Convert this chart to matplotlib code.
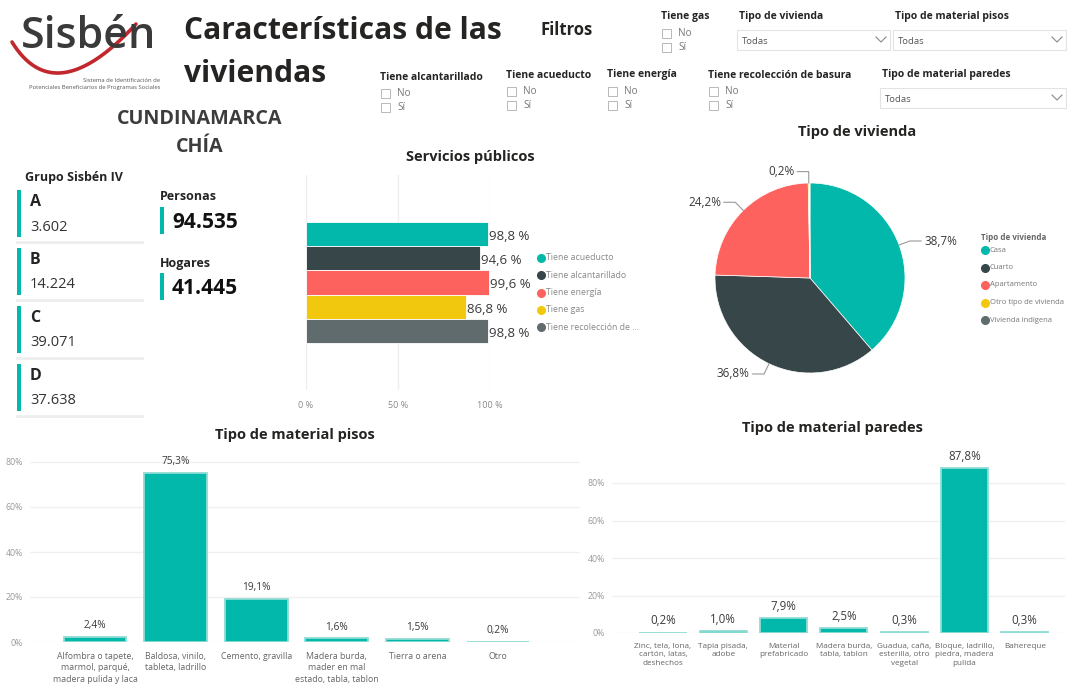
import numpy as np
import matplotlib.pyplot as plt
from matplotlib.patches import Rectangle
from matplotlib.lines import Line2D

W, H = 1068, 686
FONT = "Open Sans"
TEAL = "#01B8AA"
PALETTE = ["#01B8AA", "#374649", "#FD625E", "#F2C80F", "#5F6B6D"]
TXT_DARK = "#252423"
TXT_GRAY = "#605E5C"

# ---- data -------------------------------------------------------------
DEPARTAMENTO = "CUNDINAMARCA"
MUNICIPIO = "CHÍA"

GRUPOS = ["A", "B", "C", "D"]
GRUPO_PERSONAS = [3602, 14224, 39071, 37638]
PERSONAS = 94535
HOGARES = 41445

SERVICIOS = ["Tiene acueducto", "Tiene alcantarillado", "Tiene energía",
             "Tiene gas", "Tiene recolección de basura"]
SERVICIOS_PCT = [98.8, 94.6, 99.6, 86.8, 98.8]

VIVIENDA = ["Casa", "Cuarto", "Apartamento", "Otro tipo de vivienda", "Vivienda indígena"]
VIVIENDA_PCT = [38.7, 36.8, 24.2, 0.2, 0.1]

PISOS = ["Alfombra o tapete,\nmarmol, parqué,\nmadera pulida y laca",
         "Baldosa, vinilo,\ntableta, ladrillo",
         "Cemento, gravilla",
         "Madera burda,\nmader en mal\nestado, tabla, tablon",
         "Tierra o arena",
         "Otro"]
PISOS_PCT = [2.4, 75.3, 19.1, 1.6, 1.5, 0.2]

PAREDES = ["Zinc, tela, lona,\ncartón, latas,\ndeshechos",
           "Tapia pisada,\nadobe",
           "Material\nprefabricado",
           "Madera burda,\ntabla, tablon",
           "Guadua, caña,\nesterilla, otro\nvegetal",
           "Bloque, ladrillo,\npiedra, madera\npulida",
           "Bahereque"]
PAREDES_PCT = [0.2, 1.0, 7.9, 2.5, 0.3, 87.8, 0.3]

CHECK_FILTROS = [("Tiene gas", 661, 17), ("Tiene alcantarillado", 380, 77),
                 ("Tiene acueducto", 506, 75), ("Tiene energía", 607, 75),
                 ("Tiene recolección de basura", 708, 75)]
DROP_FILTROS = [("Tipo de vivienda", 737, 890, 17), ("Tipo de material pisos", 893, 1066, 17),
                ("Tipo de material paredes", 880, 1066, 75)]

plt.rcParams["font.family"] = [FONT, "DejaVu Sans"]

fig = plt.figure(figsize=(W / 100, H / 100), dpi=100)
fig.patch.set_facecolor("white")


def fx(x):
    return x / W


def fy(y):
    return 1 - y / H


def txt(x, y, s, size, **kw):
    kw.setdefault("va", "center")
    kw.setdefault("color", TXT_DARK)
    return fig.text(fx(x), fy(y), s, fontsize=size, **kw)


def rect(x0, y0, x1, y1, **kw):
    fig.add_artist(Rectangle((fx(x0), fy(y1)), (x1 - x0) / W, (y1 - y0) / H,
                             transform=fig.transFigure, **kw))


def line(xs, ys, **kw):
    fig.add_artist(Line2D([fx(x) for x in xs], [fy(y) for y in ys],
                          transform=fig.transFigure, **kw))


def axes_px(left, top, right, bottom):
    return fig.add_axes([left / W, 1 - bottom / H, (right - left) / W, (bottom - top) / H])


def fmt_int(v):
    return f"{v:,}".replace(",", ".")


def fmt_pct(v, sep=""):
    return f"{v:.1f}".replace(".", ",") + sep + "%"


# ---- logo + title ------------------------------------------------------
t = np.linspace(0, 1, 80)
p0, p1, p2 = np.array([12, 42]), np.array([55, 112]), np.array([136, 24])
curve = np.outer((1 - t) ** 2, p0) + np.outer(2 * t * (1 - t), p1) + np.outer(t ** 2, p2)
line(curve[:, 0], curve[:, 1], color="#C1272D", lw=2.6, solid_capstyle="round")
txt(89, 36, "Sisbén", 31, ha="center", color="#3a3a3a", weight="semibold")
txt(160, 80, "Sistema de Identificación de", 4.2, ha="right", color="#555")
txt(160, 88, "Potenciales Beneficiarios de Programas Sociales", 4.2, ha="right", color="#555")

txt(184, 31, "Características de las", 21.6, weight="bold")
txt(184, 74, "viviendas", 21.6, weight="bold")
txt(541, 30, "Filtros", 12, weight="bold")

# ---- filters -----------------------------------------------------------
for name, x, y in CHECK_FILTROS:
    txt(x, y, name, 7.5, weight="bold")
    for k, opt in enumerate(["No", "Sí"]):
        yy = y + 16 + k * 14
        rect(x + 1, yy - 4.5, x + 10, yy + 4.5, facecolor="white", edgecolor="#b8b8b8", lw=0.7)
        txt(x + 17, yy, opt, 7.2, color="#777")

for name, x0, x1, y in DROP_FILTROS:
    txt(x0 + 2, y, name, 7.5, weight="bold")
    rect(x0, y + 13, x1, y + 33, facecolor="white", edgecolor="#e3e3e3", lw=0.8)
    txt(x0 + 5, y + 24, "Todas", 6.8, color="#555")
    line([x1 - 14, x1 - 9, x1 - 4], [y + 20, y + 25, y + 20], color="#888", lw=0.8)

# ---- location + KPI cards ---------------------------------------------
txt(200, 119, DEPARTAMENTO, 14.2, ha="center", weight="bold", color="#3c3c3c")
txt(200, 147, MUNICIPIO, 14.2, ha="center", weight="bold", color="#3c3c3c")

txt(25, 178, "Grupo Sisbén IV", 9, weight="bold")
for i, (g, v) in enumerate(zip(GRUPOS, GRUPO_PERSONAS)):
    top = 190 + i * 58
    rect(17, top, 21, top + 47, facecolor=TEAL, lw=0)
    txt(30, top + 12, g, 11.5, weight="bold")
    txt(30, top + 37, fmt_int(v), 10.5, color="#333")
    line([17, 142], [top + 52, top + 52], color="#eeeeee", lw=2)

for label, val, y in [("Personas", PERSONAS, 197), ("Hogares", HOGARES, 263)]:
    txt(160, y, label, 9, weight="bold")
    rect(160, y + 10, 164, y + 37, facecolor=TEAL, lw=0)
    txt(172, y + 25, fmt_int(val), 15, weight="bold", color="#111")

# ---- servicios públicos -----------------------------------------------
txt(470, 157, "Servicios públicos", 10.5, ha="center", weight="bold")
ax = axes_px(306, 175, 490, 390)
pos = np.arange(len(SERVICIOS))
ax.barh(pos, SERVICIOS_PCT, height=1.0, color=PALETTE, edgecolor="white", lw=0.6, zorder=2)
for p, v in zip(pos, SERVICIOS_PCT):
    ax.text(v + 0.5, p + 0.1, fmt_pct(v, " "), fontsize=9.5, color="#3a3a3a",
            va="center", ha="left", clip_on=False)
half = 215 / 24.2 / 2
ax.set_ylim(2 + half, 2 - half)
ax.set_xlim(0, 100)
ax.set_xticks([0, 50, 100])
ax.set_xticklabels(["0 %", "50 %", "100 %"])
ax.tick_params(axis="x", length=0, labelsize=6.5, labelcolor="#888", pad=8)
ax.set_yticks([])
ax.grid(axis="x", color="#eeeeee", lw=1, zorder=0)
for s in ax.spines.values():
    s.set_visible(False)

for i, (name, c) in enumerate(zip(SERVICIOS, PALETTE)):
    y = 258 + i * 17.3
    label = name if len(name) <= 22 else name[:20].rstrip() + " ..."
    fig.add_artist(Line2D([fx(541)], [fy(y)], marker="o", ms=5.5, color=c,
                          transform=fig.transFigure))
    txt(546, y, label, 6.3, color="#888")

# ---- tipo de vivienda (pie) ---------------------------------------------
txt(857, 132, "Tipo de vivienda", 10.5, ha="center", weight="bold")
r_px = 95
axp = axes_px(810 - r_px, 278 - r_px, 810 + r_px, 278 + r_px)
wedges, _ = axp.pie(VIVIENDA_PCT, colors=PALETTE, startangle=90, counterclock=False,
                    radius=1, wedgeprops=dict(edgecolor="white", lw=0.5))
axp.set_xlim(-1, 1)
axp.set_ylim(-1, 1)
for w, v in zip(wedges, VIVIENDA_PCT):
    if v < 0.15:
        continue
    ang = np.deg2rad((w.theta1 + w.theta2) / 2)
    e = np.array([np.cos(ang), np.sin(ang)])
    pa, pb = e * 1.0, e * 1.12
    side = 1 if e[0] > 0 else -1
    pc = pb + np.array([0.12 * side, 0])
    axp.plot([pa[0], pb[0], pc[0]], [pa[1], pb[1], pc[1]], color="#999", lw=0.8, clip_on=False)
    axp.text(pc[0] + 0.03 * side, pc[1], fmt_pct(v), fontsize=8.5, color="#3a3a3a",
             ha="left" if side > 0 else "right", va="center", clip_on=False)

txt(981, 237, "Tipo de vivienda", 5.8, color="#666", weight="bold")
for i, (name, c) in enumerate(zip(VIVIENDA, PALETTE)):
    y = 250 + i * 17.5
    fig.add_artist(Line2D([fx(985)], [fy(y)], marker="o", ms=5.5, color=c,
                          transform=fig.transFigure))
    txt(990, y, name, 5.5, color="#777")


# ---- column charts -----------------------------------------------------
def column_chart(ax, cats, vals, ymax, xlim, label_size, tick_size):
    x = np.arange(len(cats))
    ax.bar(x, vals, width=0.78, color=TEAL, edgecolor="#8fdcd4", lw=1.3, zorder=2)
    for xi, v in zip(x, vals):
        ax.annotate(fmt_pct(v), (xi, v), xytext=(0, 4), textcoords="offset points",
                    ha="center", va="bottom", fontsize=label_size, color="#3a3a3a")
    ax.set_xlim(*xlim)
    ax.set_ylim(0, ymax)
    ax.set_yticks([0, 20, 40, 60, 80])
    ax.set_yticklabels(["0%", "20%", "40%", "60%", "80%"])
    ax.set_xticks(x)
    ax.set_xticklabels(cats, linespacing=1.35)
    ax.tick_params(axis="y", length=0, labelsize=6.3, labelcolor="#9a9a9a", pad=5)
    ax.tick_params(axis="x", length=0, labelsize=tick_size, labelcolor="#666", pad=7)
    ax.grid(axis="y", color="#f0f0f0", lw=1, zorder=0)
    for s in ax.spines.values():
        s.set_visible(False)


txt(295, 435, "Tipo de material pisos", 10.5, ha="center", weight="bold")
axl = axes_px(30, 450, 580, 642)
column_chart(axl, PISOS, PISOS_PCT, (642 - 450) / 2.25,
             ((30 - 95) / 80.6, (580 - 95) / 80.6), 7.3, 6.3)

txt(832, 428, "Tipo de material paredes", 10.5, ha="center", weight="bold")
axr = axes_px(612, 455, 1065, 633)
column_chart(axr, PAREDES, PAREDES_PCT, (633 - 455) / 1.875,
             ((612 - 663) / 60.3, (1065 - 663) / 60.3), 8.3, 5.9)

fig.savefig("out.png", dpi=100, facecolor="white")
